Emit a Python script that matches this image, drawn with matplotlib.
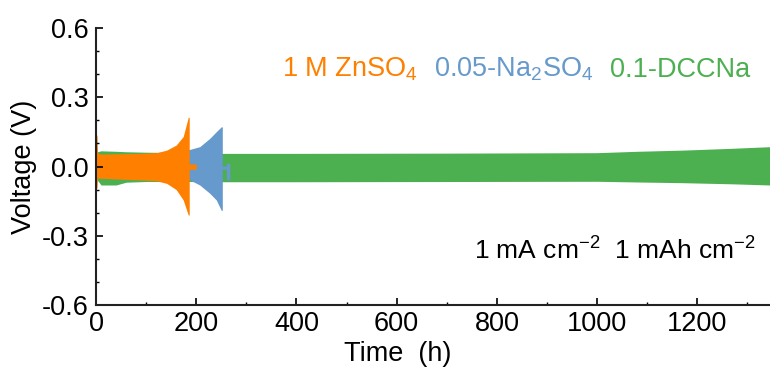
import matplotlib.pyplot as plt
from matplotlib.ticker import MultipleLocator

plt.rcParams['font.family'] = ['Liberation Sans', 'DejaVu Sans']
plt.rcParams['mathtext.fontset'] = 'custom'
plt.rcParams['mathtext.rm'] = 'Liberation Sans'
plt.rcParams['axes.unicode_minus'] = False

# envelopes of the dense charge/discharge curves (time h, voltage V)
green_t = [3, 10, 40, 60, 100, 186, 255, 400, 700, 1000, 1080, 1170, 1270, 1345]
green_top = [0.064, 0.068, 0.066, 0.064, 0.062, 0.060, 0.057, 0.057, 0.058, 0.060, 0.066, 0.071, 0.079, 0.086]
green_bot = [-0.060, -0.080, -0.080, -0.068, -0.065, -0.065, -0.066, -0.066, -0.065, -0.064, -0.067, -0.070, -0.075, -0.080]

blue_t = [184, 187, 207, 227, 240, 250, 252, 252, 260, 260, 267]
blue_top = [0.074, 0.074, 0.086, 0.122, 0.151, 0.172, 0.172, 0.002, 0.002, 0.014, 0.014]
blue_bot = [-0.058, -0.058, -0.080, -0.116, -0.145, -0.190, -0.190, -0.012, -0.012, -0.058, -0.058]

orange_t = [0, 2, 3, 8, 88, 121, 141, 160, 174, 184, 186, 186, 200]
orange_top = [0.136, 0.136, 0.060, 0.054, 0.057, 0.060, 0.071, 0.093, 0.130, 0.213, 0.213, 0.011, 0.011]
orange_bot = [-0.093, -0.093, -0.050, -0.051, -0.058, -0.062, -0.073, -0.100, -0.145, -0.210, -0.210, -0.012, -0.012]

labels = ['1 M ZnSO$\\mathregular{_4}$', '0.05-Na$\\mathregular{_2}$SO$\\mathregular{_4}$', '0.1-DCCNa']
label_x = [371, 674, 1025]
colors = ['#FF8000', '#6699CC', '#4CAF50']

fig = plt.figure(figsize=(7.7, 3.74), dpi=100)
ax = fig.add_axes([0.1247, 0.1845, 0.8753, 0.7405])

ax.fill_between(green_t, green_bot, green_top, color=colors[2], lw=0)
ax.fill_between(blue_t, blue_bot, blue_top, color=colors[1], lw=0)
ax.fill_between(orange_t, orange_bot, orange_top, color=colors[0], lw=0)

for lab, x, c in zip(labels, label_x, colors):
    ax.text(x, 0.389, lab, color=c, fontsize=19.5, ha='left', va='baseline')

ax.text(1316, -0.402, '1 mA cm$\\mathregular{^{-2}}$  1 mAh cm$\\mathregular{^{-2}}$',
        fontsize=19, ha='right', va='baseline')

ax.set_xlim(0, 1345)
ax.set_ylim(-0.6, 0.6)
ax.xaxis.set_major_locator(MultipleLocator(200))
ax.xaxis.set_minor_locator(MultipleLocator(100))
ax.yaxis.set_major_locator(MultipleLocator(0.3))
ax.yaxis.set_minor_locator(MultipleLocator(0.1))
ax.yaxis.set_major_formatter(plt.FormatStrFormatter('%.1f'))
ax.tick_params(which='major', direction='in', length=5, width=1.2, labelsize=19.5)
ax.tick_params(axis='x', which='major', pad=4)
ax.tick_params(axis='y', which='major', pad=5)
ax.tick_params(which='minor', direction='in', length=2.5, width=1)
for s in ['top', 'right']:
    ax.spines[s].set_visible(False)
for s in ['left', 'bottom']:
    ax.spines[s].set_linewidth(1.5)
    ax.spines[s].set_color('#222222')

ax.set_xlabel('Time  (h)', fontsize=19.5)
ax.xaxis.set_label_coords(0.447, -0.13)
ax.set_ylabel('Voltage (V)', fontsize=19.5, labelpad=4)

plt.savefig('out.png', dpi=100)
